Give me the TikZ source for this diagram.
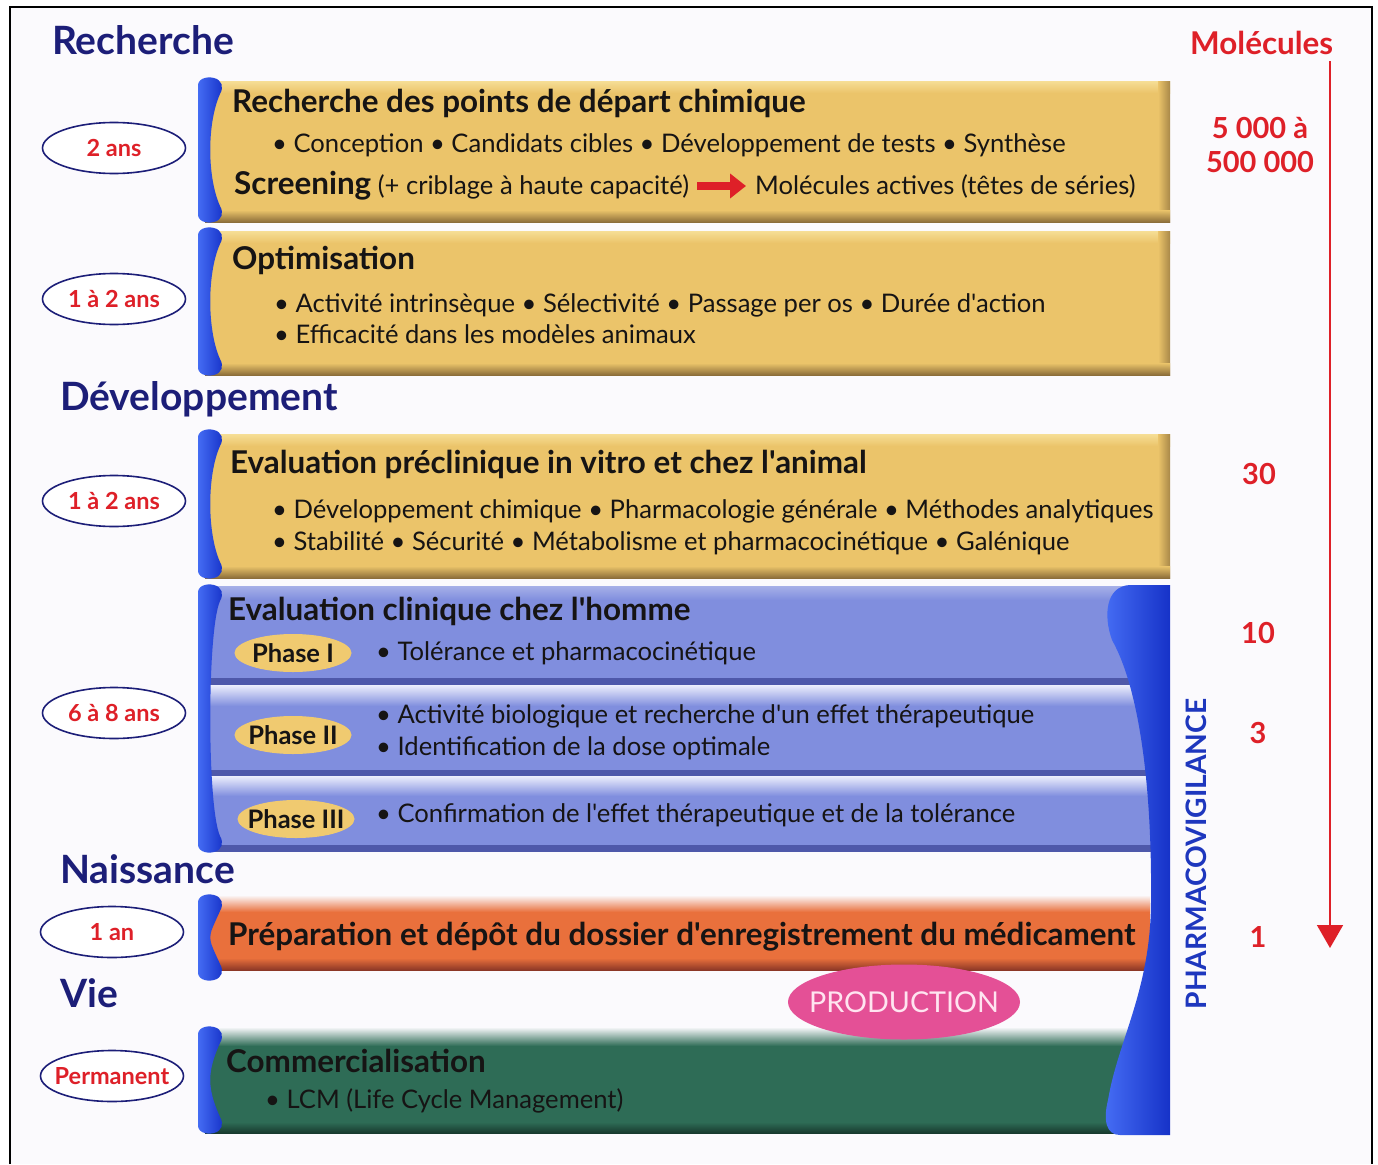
\documentclass[tikz,border=0pt]{standalone}
\usepackage{fontspec}
\setmainfont{Lato}[Ligatures=TeXOff]
\usetikzlibrary{shapes.geometric,arrows.meta}
\definecolor{navyc}{RGB}{28,30,120}
\definecolor{redc}{RGB}{222,32,40}
\definecolor{ink}{RGB}{22,20,20}
\definecolor{bgc}{RGB}{251,250,253}
\definecolor{yelc}{RGB}{235,196,106}
\definecolor{yelhi}{RGB}{246,222,150}
\definecolor{tanc}{RGB}{140,110,58}
\definecolor{bandc}{RGB}{128,142,222}
\definecolor{banddk}{RGB}{78,88,170}
\definecolor{gapc}{RGB}{236,238,252}
\definecolor{orac}{RGB}{233,112,60}
\definecolor{oradk}{RGB}{140,55,38}
\definecolor{grnc}{RGB}{46,108,86}
\definecolor{grndk}{RGB}{24,58,46}
\definecolor{pinkc}{RGB}{228,80,150}
\definecolor{brkc}{RGB}{22,50,200}
\definecolor{brkhi}{RGB}{70,110,245}
\definecolor{phyel}{RGB}{240,202,112}
\definecolor{pvblue}{RGB}{30,55,190}
\newcommand{\fs}[1]{\fontsize{#1}{#1}\selectfont}
\newcommand{\zb}[1]{\makebox[0pt]{#1}}
\newcommand{\lbrk}[2]{%
  \shade[left color=brkhi, right color=brkc]
    (198,{#1+9}) .. controls (197,{#1+1}) and (206,{#1-2}) .. (214,{#1})
    .. controls (222,{#1+2}) and (224,{#1+9}) .. (220,{#1+16})
    .. controls (207,{#1+45}) and (207,{#2-45}) .. (220,{#2-16})
    .. controls (224,{#2-9}) and (222,{#2-2}) .. (214,{#2})
    .. controls (206,{#2+2}) and (197,{#2-1}) .. (198,{#2-9}) -- cycle;}
\newcommand{\ybox}[2]{%
  \fill[yelc] (205,#1) rectangle (1170,#2);
  \shade[top color=yelhi, bottom color=yelc] (205,#1) rectangle (1170,{#1+12});
  \shade[left color=yelc, right color=tanc!70!yelc] (1158,#1) rectangle (1170,#2);
  \shade[top color=yelc, bottom color=tanc] (205,{#2-12}) rectangle (1170,#2);}
\begin{document}
\begin{tikzpicture}[x=1pt,y=-1pt,
  hdr/.style={font=\bfseries\fs{39}, text=navyc, anchor=base west, inner sep=0},
  ttl/.style={font=\bfseries\fs{31.4}, text=ink, anchor=base west, inner sep=0},
  txt/.style={font=\fs{25.6}, text=ink, anchor=base west, inner sep=0},
  dur/.style={ellipse, draw=navyc, line width=1.6pt, fill=white, minimum width=143pt,
    minimum height=51pt, inner sep=0, font=\bfseries\fs{23.5}, text=redc},
  num/.style={font=\bfseries\fs{29}, text=redc, inner sep=0},
  phase/.style={ellipse, fill=phyel, minimum width=117pt, minimum height=38pt,
    inner sep=0, font=\bfseries\fs{25.5}, text=ink}]
\useasboundingbox (0,0) rectangle (1378,1164);
\fill[white] (0,0) rectangle (1378,1164);
\fill[bgc] (10,7) rectangle (1372,1164);
\draw[line width=2pt, black] (10,1164) -- (10,7) -- (1372,7) -- (1372,1164);

% yellow boxes
\ybox{81}{222}
\ybox{231}{375}
\ybox{434}{578}
% blue clinical region
\fill[bandc] (205,586) rectangle (1165,852);
\shade[top color=bandc!70!white, bottom color=bandc] (205,586) rectangle (1165,600);
\fill[banddk] (205,678) rectangle (1165,685);
\shade[top color=gapc, bottom color=bandc] (205,685) rectangle (1165,706);
\fill[banddk] (205,770) rectangle (1165,776);
\shade[top color=gapc, bottom color=bandc] (205,776) rectangle (1165,796);
\fill[banddk] (205,845) rectangle (1165,852);
% orange box
\fill[orac] (205,905) rectangle (1150,970);
\shade[top color=bgc, bottom color=orac] (205,895) rectangle (1150,912);
\shade[top color=orac, bottom color=oradk] (205,958) rectangle (1150,970);
% green box
\fill[grnc] (205,1040) rectangle (1165,1133);
\shade[top color=bgc, bottom color=grnc] (205,1027) rectangle (1165,1046);
\shade[top color=grnc, bottom color=grndk] (205,1122) rectangle (1165,1133);

% left brackets
\lbrk{78}{222}
\lbrk{228}{375}
\lbrk{430}{578}
\lbrk{585}{852}
\lbrk{895}{980}
\lbrk{1027}{1133}

% pharmacovigilance bar
\shade[left color=brkhi, right color=brkc]
  (1170,585) -- (1170,1135) -- (1120,1135)
  .. controls (1106,1135) and (1103,1120) .. (1108,1100)
  .. controls (1118,1040) and (1151,990) .. (1151,900)
  .. controls (1152,790) and (1140,690) .. (1112,640)
  .. controls (1103,615) and (1106,586) .. (1130,585) -- cycle;

% headings
\node[hdr] (hrech) at (52,55) {Recherche};
\node[hdr] (hdev) at (60,410) {Développement};
\node[hdr] (hnais) at (60,883) {Naissance};
\node[hdr] (hvie) at (60,1007) {Vie};
\node[font=\bfseries\fs{31.4}, text=redc, anchor=base west, inner sep=0] (mol) at (1190,55) {Molécules};

% durations
\node[dur] (d1) at (114,148) {\zb{2 ans}};
\node[dur] (d2) at (114,299) {\zb{1 à 2 ans}};
\node[dur] (d3) at (114,501) {\zb{1 à 2 ans}};
\node[dur] (d4) at (114,713) {\zb{6 à 8 ans}};
\node[dur] (d5) at (112,932) {\zb{1 an}};
\node[dur] (d6) at (112,1076) {\zb{Permanent}};

% box 1
\node[ttl] (t1) at (232,112) {Recherche des points de départ chimique};
\node[txt] (t1a) at (272,152) {• Conception • Candidats cibles • Développement de tests • Synthèse};
\node[txt] (scr) at (234,194) {{\bfseries\fs{31.4}Screening} (+ criblage à haute capacité)};
\node[txt] (act) at (755,194) {Molécules actives (têtes de séries)};
\draw[redc, line width=8pt, -{Triangle[width=24pt,length=16pt]}]
  ([xshift=8pt,yshift=8pt]scr.base east) -- ([xshift=-9pt,yshift=8pt]act.base west);

% box 2
\node[ttl] (t2) at (232,269) {Optimisation};
\node[txt] (t2a) at (274,312) {• Activité intrinsèque • Sélectivité • Passage per os • Durée d'action};
\node[txt] (t2b) at (274,343) {• Efficacité dans les modèles animaux};

% box 3
\node[ttl] (t3) at (230,473) {Evaluation préclinique in vitro et chez l'animal};
\node[txt] (t3a) at (272,518) {• Développement chimique • Pharmacologie générale • Méthodes analytiques};
\node[txt] (t3b) at (272,550) {• Stabilité • Sécurité • Métabolisme et pharmacocinétique • Galénique};

% clinical
\node[ttl] (t4) at (228,620) {Evaluation clinique chez l'homme};
\node[phase] (p1) at (293,653) {\zb{Phase I}};
\node[txt] (p1a) at (376,660) {• Tolérance et pharmacocinétique};
\node[phase] (p2) at (293,735) {\zb{Phase II}};
\node[txt] (p2a) at (376,723) {• Activité biologique et recherche d'un effet thérapeutique};
\node[txt] (p2b) at (376,755) {• Identification de la dose optimale};
\node[phase] (p3) at (296,819) {\zb{Phase III}};
\node[txt] (p3a) at (376,822) {• Confirmation de l'effet thérapeutique et de la tolérance};

% orange & green
\node[ttl] (t5) at (228,945) {Préparation et dépôt du dossier d'enregistrement du médicament};
\node[ellipse, fill=pinkc, minimum width=232pt, minimum height=75pt, inner sep=0,
  font=\fs{28.7}, text={rgb,255:red,255;green,228;blue,240}] (prod) at (904,1002) {\zb{PRODUCTION}};
\node[ttl] (t6) at (226,1072) {Commercialisation};
\node[txt] (t6a) at (265,1108) {• LCM (Life Cycle Management)};

% pharmacovigilance label
\node[rotate=90, font=\bfseries\fs{28.2}, text=pvblue, inner sep=0] (pv) at (1196,854) {PHARMACOVIGILANCE};

% molecule counts
\node[num] (n1) at (1260,128) {5 000 à};
\node[num] (n2) at (1260,162) {500 000};
\node[num] (n3) at (1259,474) {30};
\node[num] (n4) at (1258,633) {10};
\node[num] (n5) at (1258,733) {3};
\node[num] (n6) at (1258,937) {1};
\coordinate (arrend) at (1330,948);
\draw[redc, line width=1.6pt, -{Triangle[width=26pt,length=23pt]}]
  ([yshift=-6pt]mol.south east -| arrend) -- (arrend);
\end{tikzpicture}
\end{document}
